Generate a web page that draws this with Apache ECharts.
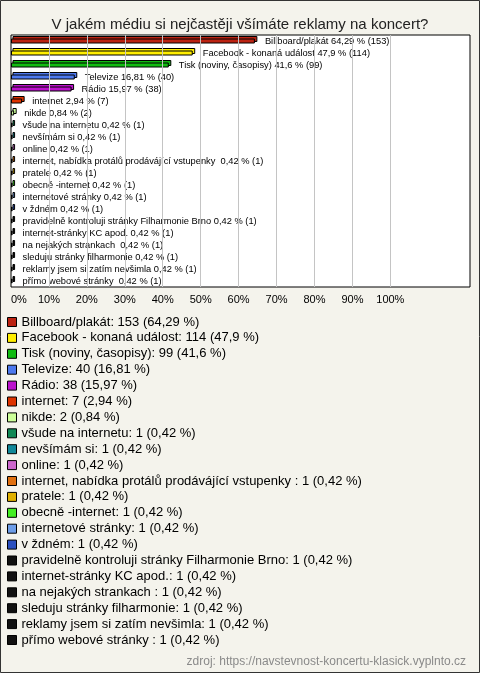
<!DOCTYPE html>
<html>
<head>
<meta charset="utf-8">
<script src="https://cdn.jsdelivr.net/npm/echarts@6/dist/echarts.min.js"></script>
<style>
html,body{margin:0;padding:0;background:#f4f3ec;}
#chart{width:480px;height:673px;}
</style>
</head>
<body>
<div id="chart"></div>
<script>
const titleText = 'V jakém médiu si nejčastěji všímáte reklamy na koncert?';
const sourceText = 'zdroj: https://navstevnost-koncertu-klasick.vyplnto.cz';
const categories = [
  'Billboard/plakát',
  'Facebook - konaná událost',
  'Tisk (noviny, časopisy)',
  'Televize',
  'Rádio',
  'internet',
  'nikde',
  'všude na internetu',
  'nevšímám si',
  'online',
  'internet, nabídka protálů prodávájící vstupenky ',
  'pratele',
  'obecně -internet',
  'internetové stránky',
  'v ždném',
  'pravidelně kontroluji stránky Filharmonie Brno',
  'internet-stránky KC apod.',
  'na nejakých strankach ',
  'sleduju stránky filharmonie',
  'reklamy jsem si zatím nevšimla',
  'přímo webové stránky '
];
const counts = [153, 114, 99, 40, 38, 7, 2, 1, 1, 1, 1, 1, 1, 1, 1, 1, 1, 1, 1, 1, 1];
const percents = [64.29, 47.9, 41.6, 16.81, 15.97, 2.94, 0.84, 0.42, 0.42, 0.42, 0.42, 0.42, 0.42, 0.42, 0.42, 0.42, 0.42, 0.42, 0.42, 0.42, 0.42];
const colors = ['#bb2211', '#ffee00', '#11bb11', '#4d79ee', '#bb11cc', '#dd3300', '#ccff99', '#118855', '#118899', '#cc66cc', '#e07010', '#e0b000', '#44ee22', '#6d9de8', '#2a4fbf', '#111111', '#111111', '#111111', '#111111', '#111111', '#111111'];
const xTicks = [0, 10, 20, 30, 40, 50, 60, 70, 80, 90, 100];

const fmt = v => String(v).replace('.', ',');
const FONT = '"Liberation Sans", Arial, sans-serif';

const barSeries = categories.map((name, i) => ({
  type: 'bar',
  name: name,
  data: categories.map((c, j) => (j === i ? percents[i] : null)),
  barWidth: 5,
  barGap: '-100%',
  z: 3,
  itemStyle: { color: colors[i], borderColor: '#000', borderWidth: 1 },
  label: {
    show: true,
    position: 'right',
    distance: 10,
    fontFamily: FONT,
    fontSize: 9.3,
    color: '#000',
    formatter: () => name + ' ' + fmt(percents[i]) + ' % (' + counts[i] + ')'
  },
  emphasis: { disabled: true },
  silent: true
}));

const gridLineSeries = {
  type: 'line',
  name: '__grid',
  data: [],
  silent: true,
  z: 1,
  markLine: {
    silent: true,
    symbol: 'none',
    animation: false,
    label: { show: false },
    lineStyle: { color: '#c4c4c4', type: 'solid', width: 1 },
    data: xTicks.filter(v => v > 0).map(v => ({ xAxis: v }))
  }
};

const backSeries = {
  type: 'custom',
  name: '__back',
  silent: true,
  z: 2,
  data: percents.map((p, i) => [p, i]),
  renderItem: function (params, api) {
    const v = api.value(0);
    const idx = api.value(1);
    const s = api.coord([0, idx]);
    const e = api.coord([v, idx]);
    return {
      type: 'rect',
      shape: { x: s[0] + 2, y: e[1] - 2.5 - 2, width: e[0] - s[0], height: 5 },
      style: { fill: colors[idx], stroke: '#000', lineWidth: 1 }
    };
  }
};

const chart = echarts.init(document.getElementById('chart'), null, { renderer: 'canvas' });
chart.setOption({
  backgroundColor: '#f4f3ec',
  animation: false,
  title: [
    { text: titleText, left: 'center', top: 12, textStyle: { fontFamily: FONT, fontSize: 15, fontWeight: 'normal', color: '#222' } },
    { text: sourceText, right: 9, top: 651, textStyle: { fontFamily: FONT, fontSize: 12, fontWeight: 'normal', color: '#8a8a8a' } }
  ],
  graphic: [
    { type: 'rect', shape: { x: 0.5, y: 0.5, width: 479, height: 672 }, style: { fill: 'none', stroke: '#333', lineWidth: 1 }, silent: true, z: 100 }
  ],
  grid: {
    left: 11, top: 35, width: 459, height: 252,
    show: true, backgroundColor: '#fff', borderColor: '#000', borderWidth: 1
  },
  xAxis: {
    type: 'value', min: 0, max: 121, interval: 10,
    axisLine: { show: false }, axisTick: { show: false }, splitLine: { show: false },
    axisLabel: {
      margin: 7, fontFamily: FONT, fontSize: 11, color: '#000',
      showMaxLabel: false,
      alignMinLabel: 'left',
      formatter: v => (v <= 100 ? v + '%' : '')
    }
  },
  yAxis: {
    type: 'category', inverse: true, data: categories,
    axisLine: { show: false }, axisTick: { show: false }, axisLabel: { show: false }, splitLine: { show: false }
  },
  legend: {
    orient: 'vertical', left: 7, top: 314, padding: 0,
    itemWidth: 9, itemHeight: 9, itemGap: -0.1,
    icon: 'rect',
    itemStyle: { borderColor: '#000', borderWidth: 1 },
    data: categories,
    selectedMode: false,
    textStyle: { fontFamily: FONT, fontSize: 13, color: '#000', lineHeight: 16 },
    formatter: name => {
      const i = categories.indexOf(name);
      return name + ': ' + counts[i] + ' (' + fmt(percents[i]) + ' %)';
    }
  },
  series: [gridLineSeries, backSeries].concat(barSeries)
});
</script>
</body>
</html>
